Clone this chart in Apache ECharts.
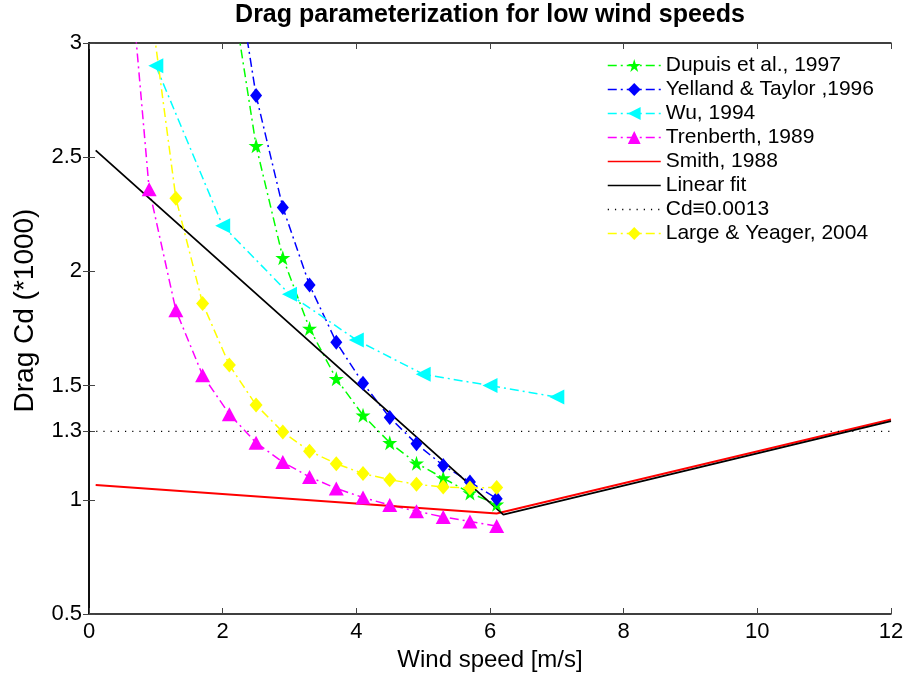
<!DOCTYPE html>
<html>
<head>
<meta charset="utf-8">
<script src="https://cdn.jsdelivr.net/npm/echarts@6/dist/echarts.min.js"></script>
<style>
  html, body { margin: 0; padding: 0; background: #fff; }
  #chart { width: 908px; height: 673px; }
</style>
</head>
<body>
<div id="chart"></div>
<script>
// Drag coefficient (x1000) versus wind speed for several parameterizations
const dupuisX   = [2.1, 2.5, 2.9, 3.3, 3.7, 4.1, 4.5, 4.9, 5.3, 5.7, 6.1];
const dupuis    = [3.30, 2.55, 2.06, 1.75, 1.53, 1.37, 1.25, 1.16, 1.095, 1.03, 0.98];
const yellandX  = [2.1, 2.5, 2.9, 3.3, 3.7, 4.1, 4.5, 4.9, 5.3, 5.7, 6.1];
const yelland   = [3.51, 2.77, 2.28, 1.94, 1.69, 1.51, 1.36, 1.245, 1.15, 1.078, 1.005];
const wuX       = [1, 2, 3, 4, 5, 6, 7];
const wu        = [2.9, 2.2, 1.9, 1.7, 1.55, 1.5, 1.45];
const trenX     = [0.5, 0.9, 1.3, 1.7, 2.1, 2.5, 2.9, 3.3, 3.7, 4.1, 4.5, 4.9, 5.3, 5.7, 6.1];
const trenberth = [3.7, 2.36, 1.83, 1.545, 1.375, 1.25, 1.165, 1.1, 1.05, 1.01, 0.977, 0.95, 0.925, 0.905, 0.885];
const smithX    = [0.1, 6.1, 12];
const smith     = [1.065, 0.94, 1.352];
const fitX      = [0.1, 6.2, 12];
const fit       = [2.53, 0.935, 1.345];
const constX    = [0, 12];
const constCd   = [1.3, 1.3];
const lyX       = [0.9, 1.3, 1.7, 2.1, 2.5, 2.9, 3.3, 3.7, 4.1, 4.5, 4.9, 5.3, 5.7, 6.1];
const largeY    = [3.21, 2.32, 1.86, 1.59, 1.415, 1.297, 1.213, 1.158, 1.115, 1.088, 1.068, 1.056, 1.052, 1.054];

const yTicks = [0.5, 1, 1.3, 1.5, 2, 2.5, 3];

const FONT = 'Liberation Sans, Arial, Helvetica, sans-serif';
const DASHDOT = [9, 4, 2, 4];
const STAR = 'path://M50,0 L61.2,34.5 L97.6,34.5 L68.2,55.9 L79.4,90.5 L50,69.1 L20.6,90.5 L31.8,55.9 L2.4,34.5 L38.8,34.5 Z';

const zip = (xs, ys) => xs.map((x, i) => [x, ys[i]]);

function marked(name, xs, ys, color, symbol, size, extra) {
  return Object.assign({
    name: name,
    type: 'line',
    data: zip(xs, ys),
    symbol: symbol,
    symbolSize: size,
    showSymbol: true,
    clip: true,
    animation: false,
    itemStyle: { color: color },
    lineStyle: { color: color, width: 1.5, type: DASHDOT }
  }, extra || {});
}

function plain(name, xs, ys, color, width, type) {
  return {
    name: name,
    type: 'line',
    data: zip(xs, ys),
    symbol: 'none',
    clip: true,
    animation: false,
    itemStyle: { color: color },
    lineStyle: { color: color, width: width, type: type }
  };
}

const chart = echarts.init(document.getElementById('chart'), null, { renderer: 'canvas' });

const axisLine = { show: true, lineStyle: { color: '#000', width: 1.5 } };

chart.setOption({
  backgroundColor: '#fff',
  animation: false,
  title: {
    text: 'Drag parameterization for low wind speeds',
    left: 490,
    textAlign: 'center',
    top: 3,
    padding: 0,
    textStyle: { fontFamily: FONT, fontWeight: 'bold', fontSize: 25, color: '#000' }
  },
  grid: { left: 89, right: 17, top: 43, bottom: 59, containLabel: false, outerBoundsMode: 'none' },
  legend: {
    orient: 'vertical',
    left: 607,
    top: 55,
    padding: 0,
    itemWidth: 53,
    itemHeight: 16,
    itemGap: 3,
    selectedMode: false,
    textStyle: { fontFamily: FONT, fontSize: 21, color: '#000' },
    lineStyle: { width: 1.5 },
    data: [
      'Dupuis et al., 1997',
      'Yelland & Taylor ,1996',
      'Wu, 1994',
      'Trenberth, 1989',
      { name: 'Smith, 1988', itemStyle: { opacity: 0 } },
      { name: 'Linear fit', itemStyle: { opacity: 0 } },
      { name: 'Cd\u22610.0013', itemStyle: { opacity: 0 } },
      'Large & Yeager, 2004'
    ]
  },
  xAxis: [
    {
      type: 'value', min: 0, max: 12, interval: 2,
      position: 'bottom',
      axisLine: axisLine,
      axisTick: { show: true, inside: true, length: 6, lineStyle: { color: '#444' } },
      axisLabel: { show: true, fontFamily: FONT, fontSize: 22, color: '#000', margin: 7 },
      splitLine: { show: false },
      name: 'Wind speed [m/s]',
      nameLocation: 'middle',
      nameGap: 31,
      nameTextStyle: { fontFamily: FONT, fontSize: 24, color: '#000' }
    },
    {
      type: 'value', min: 0, max: 12, interval: 2,
      position: 'top',
      axisLine: axisLine,
      axisTick: { show: true, inside: true, length: 6, lineStyle: { color: '#444' } },
      axisLabel: { show: false },
      splitLine: { show: false }
    }
  ],
  yAxis: [
    {
      type: 'value', min: 0.5, max: 3, interval: 0.5,
      position: 'left',
      axisLine: axisLine,
      axisTick: { show: true, inside: true, length: 6, customValues: yTicks, lineStyle: { color: '#444' } },
      axisLabel: { show: true, customValues: yTicks, fontFamily: FONT, fontSize: 22, color: '#000', margin: 7 },
      splitLine: { show: false },
      name: 'Drag Cd (*1000)',
      nameLocation: 'middle',
      nameGap: 50,
      nameTextStyle: { fontFamily: FONT, fontSize: 28, color: '#000', padding: [0, 0, 0, 36] }
    },
    {
      type: 'value', min: 0.5, max: 3, interval: 0.5,
      position: 'right',
      axisLine: axisLine,
      axisTick: { show: true, inside: true, length: 6, customValues: yTicks, lineStyle: { color: '#444' } },
      axisLabel: { show: false },
      splitLine: { show: false }
    }
  ],
  series: [
    marked('Dupuis et al., 1997', dupuisX, dupuis, '#00ff00', STAR, 15),
    marked('Yelland & Taylor ,1996', yellandX, yelland, '#0000ff', 'diamond', [12, 15]),
    marked('Wu, 1994', wuX, wu, '#00ffff', 'triangle', 15, { symbolRotate: 90 }),
    marked('Trenberth, 1989', trenX, trenberth, '#ff00ff', 'triangle', [15, 14]),
    plain('Smith, 1988', smithX, smith, '#ff0000', 2, 'solid'),
    plain('Linear fit', fitX, fit, '#000000', 1.8, 'solid'),
    plain('Cd\u22610.0013', constX, constCd, '#000000', 1.2, [1.2, 6]),
    marked('Large & Yeager, 2004', lyX, largeY, '#ffff00', 'diamond', [13, 15])
  ]
});
</script>
</body>
</html>
